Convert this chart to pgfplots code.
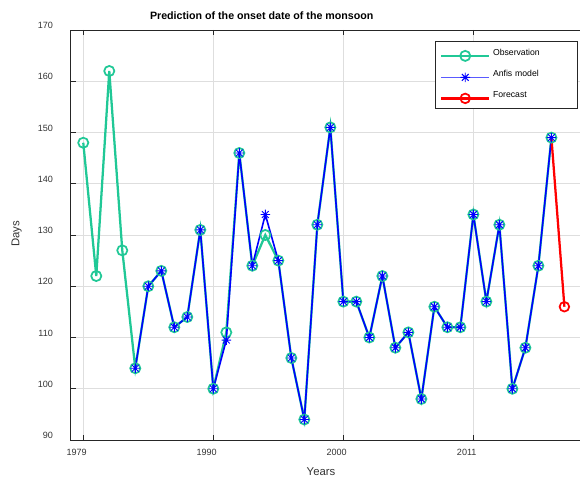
\documentclass[border=0pt]{standalone}
\usepackage{pgfplots}
\pgfplotsset{compat=1.18}
\usepackage{pgfplotstable}
\usepackage{fontspec}
\setmainfont{Liberation Sans}
\definecolor{obsgreen}{RGB}{32,200,150}
\definecolor{axgray}{RGB}{38,38,38}
\definecolor{gridgray}{RGB}{222,222,222}
\definecolor{legblue}{RGB}{90,90,255}
\pgfdeclareplotmark{star8}{%
 \pgfpathmoveto{\pgfqpoint{-\pgfplotmarksize}{0pt}}\pgfpathlineto{\pgfqpoint{\pgfplotmarksize}{0pt}}%
 \pgfpathmoveto{\pgfqpoint{0pt}{-\pgfplotmarksize}}\pgfpathlineto{\pgfqpoint{0pt}{\pgfplotmarksize}}%
 \pgfpathmoveto{\pgfqpoint{-0.707\pgfplotmarksize}{-0.707\pgfplotmarksize}}\pgfpathlineto{\pgfqpoint{0.707\pgfplotmarksize}{0.707\pgfplotmarksize}}%
 \pgfpathmoveto{\pgfqpoint{-0.707\pgfplotmarksize}{0.707\pgfplotmarksize}}\pgfpathlineto{\pgfqpoint{0.707\pgfplotmarksize}{-0.707\pgfplotmarksize}}%
 \pgfusepathqstroke}

\pgfplotstableread{
x y
1 148
2 122
3 162
4 127
5 104
6 120
7 123
8 112
9 114
10 131
11 100
12 111
13 146
14 124
15 130
16 125
17 106
18 94
19 132
20 151
21 117
22 117
23 110
24 122
25 108
26 111
27 98
28 116
29 112
30 112
31 134
32 117
33 132
34 100
35 108
36 124
37 149
}\obs

\pgfplotstableread{
x y
5 104
6 120
7 123
8 112
9 114
10 131
11 100
12 109.5
13 146
14 124
15 134
16 125
17 106
18 94
19 132
20 151
21 117
22 117
23 110
24 122
25 108
26 111
27 98
28 116
29 112
30 112
31 134
32 117
33 132
34 100
35 108
36 124
37 149
}\anfis

\pgfplotstableread{
x y
37 149
38 116
}\forecast

\begin{document}
\begin{tikzpicture}[x=1pt,y=1pt]
\path[use as bounding box] (0,0) rectangle (435,363);
\begin{axis}[
 at={(52.7pt,33pt)}, anchor=south west,
 scale only axis, width=382.3pt, height=307.5pt,
 xmin=0, xmax=39.2, ymin=90, ymax=170,
 xtick={1,11,21,31}, xticklabels={1979,1990,2000,2011},
 ytick={90,100,...,170},
 axis x line*=box, axis y line*=left, tick align=inside,
 grid=major, grid style={gridgray, line width=0.5pt},
 axis line style={axgray, line width=0.6pt},
 tick style={axgray, line width=0.6pt}, major tick length=4pt,
 tick label style={font=\fontsize{6.8}{8}\selectfont, text=black!80},
 /pgf/number format/assume math mode=true,
 yticklabel style={xshift=-9.5pt, yshift=3.4pt},
 xticklabel style={yshift=-3.4pt, xshift=-5pt},
 legend image code/.code={\draw[mark repeat=2,mark phase=2] plot coordinates {(0pt,0pt) (18pt,0pt) (36pt,0pt)};},
 legend style={at={(0.996,0.972)}, anchor=north east, draw=axgray, fill=white,
   font=\fontsize{6.5}{8}\selectfont, row sep=5.2pt, inner sep=3.5pt,
   /tikz/every even column/.append style={text width=58pt, yshift=2pt}},
 legend cell align=left,
]
\addlegendimage{obsgreen, line width=1.7pt, mark=o, mark size=3.8pt, mark options={solid, line width=1.3pt}}
\addlegendentry{Observation}
\addlegendimage{legblue, solid, line width=1.1pt, mark=star8, mark size=3.6pt, mark options={solid, blue, line width=0.7pt}}
\addlegendentry{Anfis model}
\addlegendimage{red, line width=1.7pt, mark=o, mark size=3.6pt, mark options={solid, line width=1.3pt}}
\addlegendentry{Forecast}
\addplot[forget plot, obsgreen, line width=1.7pt, mark=o, mark size=3.8pt, mark options={line width=1.3pt}] table {\obs};
\addplot[forget plot, blue, line width=1.2pt, mark=star8, mark size=3.6pt, mark options={line width=0.7pt}] table {\anfis};
\addplot[forget plot, red, line width=1.7pt, mark=o, mark size=3.6pt, mark options={line width=1.3pt}, mark indices={2}] table {\forecast};
\end{axis}
\node[font=\bfseries\fontsize{8}{9}\selectfont, text=black] at (196.3,351.5) {Prediction of the onset date of the monsoon};
\node[font=\fontsize{8.5}{10}\selectfont, text=black!80] at (240.75,9.5) {Years};
\node[font=\fontsize{8.5}{10}\selectfont, text=black!80, rotate=90] at (12.5,187.7) {Days};
\end{tikzpicture}
\end{document}
